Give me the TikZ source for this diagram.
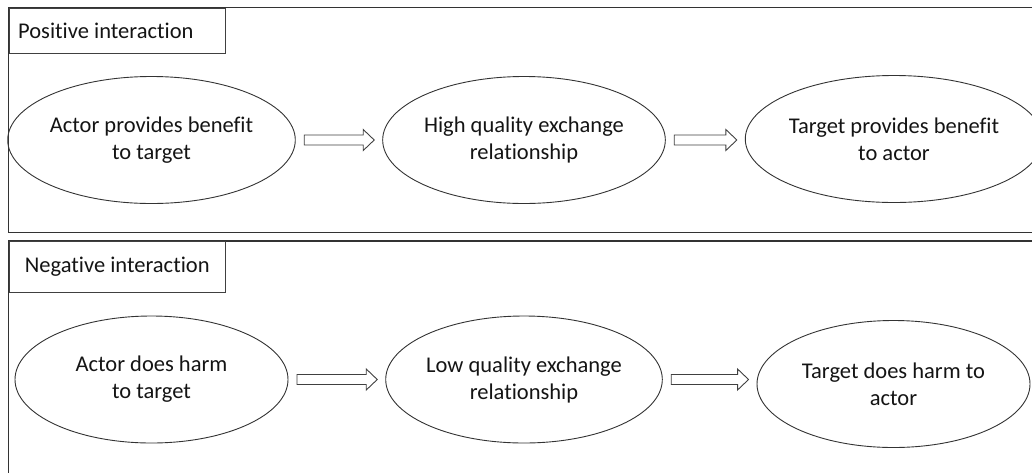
\documentclass[tikz,border=0pt]{standalone}
\usepackage{fontspec}
\setmainfont{Carlito}[Ligatures=NoCommon]
\usetikzlibrary{shapes.geometric,calc}

% hollow block arrow between two bubbles
\newcommand\blockarr[2]{%
  \draw[blockarrow] let \p1=($(#1.east)+(8.5,0)$), \p2=($(#2.west)+(-8,0)$) in
    (\x1,\y1-5pt) -- (\x2-11pt,\y1-5pt) -- (\x2-11pt,\y1-10.5pt) -- (\x2,\y1)
    -- (\x2-11pt,\y1+10.5pt) -- (\x2-11pt,\y1+5pt) -- (\x1,\y1+5pt) -- cycle;}

\begin{document}
\begin{tikzpicture}[x=1pt,y=-1pt,
  panel/.style={draw=black!80,line width=1.1pt},
  tagbox/.style={draw=black!75,line width=1pt,anchor=north west,inner sep=0pt,
    minimum width=216.5pt,minimum height=45.5pt},
  tagtext/.style={font=\fontsize{22.5}{27}\selectfont,text=black!92,inner sep=0pt},
  bubble/.style={ellipse,draw=black!80,line width=0.9pt,minimum width=273pt,
    minimum height=127pt,inner sep=0pt,align=center,text=black!92,
    font=\fontsize{22.5}{27}\selectfont},
  blockarrow/.style={draw=black!75,line width=0.9pt,fill=white,line join=miter}]
\useasboundingbox (0,0) rectangle (1032,472);
\clip (0,0) rectangle (1032,472);

% panels (open to the right and bottom)
\draw[panel] (8.5,7.5) rectangle (1045,232.5);
\draw[panel] (8.5,241) rectangle (1045,485);

% panel titles
\node[tagbox] (postag) at (8.5,7.5) {};
\node[tagtext,anchor=west] (poslabel) at ($(postag.west)+(9.5,0)$) {Positive interaction};
\node[tagbox,minimum height=51pt] (negtag) at (8.5,241) {};
\node[tagtext] (neglabel) at ($(negtag.center)+(0,-0.5)$) {Negative interaction};

% positive chain
\node[bubble] (p1) at (151.5,140) {Actor provides benefit\\to target};
\node[bubble] (p2) at (524,140) {High quality exchange\\relationship};
\node[bubble] (p3) at (894,139) {Target provides benefit\\to actor};

% negative chain
\node[bubble] (n1) at (151.5,379.5) {Actor does harm\\to target};
\node[bubble] (n2) at (524,379.5) {Low quality exchange\\relationship};
\node[bubble] (n3) at (893.5,384) {Target does harm to\\actor};

\blockarr{p1}{p2}
\blockarr{p2}{p3}
\blockarr{n1}{n2}
\blockarr{n2}{n3}
\end{tikzpicture}
\end{document}
